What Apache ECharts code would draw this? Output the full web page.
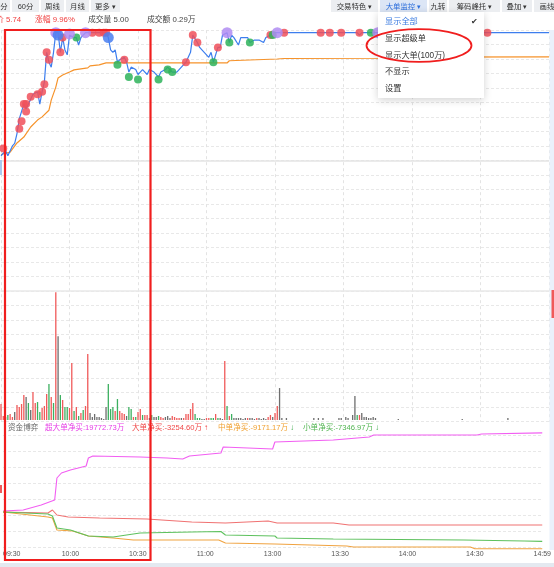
<!DOCTYPE html>
<html>
<head>
<meta charset="utf-8">
<style>
html,body{margin:0;padding:0;background:#fff;overflow:hidden;}
#chart{width:554px;height:567px;}
</style>
<script src="https://cdn.jsdelivr.net/npm/echarts/dist/echarts.min.js"></script>
</head>
<body>
<div id="chart"></div>
<script>
// x = minute index from 09:30 (120 = 11:30/13:00, 240 = 15:00)
const timeLabels = ['09:30', '10:00', '10:30', '11:00', '13:00', '13:30', '14:00', '14:30', '14:59']
const prevClose = 5.22

const price = [[0,5.24],[2,5.26],[3,5.24],[5,5.28],[6,5.29],[7,5.33],[8,5.39],[10,5.45],[11,5.43],[13,5.47],
  [14,5.49],[16,5.50],[17,5.45],[18,5.50],[19,5.54],[20,5.66],[21,5.62],[22,5.60],[23,5.66],[24,5.74],
  [25,5.74],[26,5.66],[27,5.72],[28,5.67],[29,5.65],[30,5.73],[32,5.72],[33,5.72],[34,5.69],[35,5.72],
  [37,5.74],[46,5.74],[47,5.72],[48,5.67],[49,5.66],[50,5.67],[51,5.62],[52,5.63],[54,5.64],[55,5.62],
  [56,5.58],[57,5.60],[59,5.59],[60,5.57],[61,5.58],[62,5.59],[64,5.57],[65,5.59],[67,5.58],[69,5.56],
  [70,5.58],[72,5.59],[73,5.60],[75,5.58],[77,5.58],[79,5.60],[81,5.62],[83,5.66],[84,5.73],[86,5.70],
  [87,5.68],[89,5.66],[91,5.64],[92,5.66],[93,5.62],[95,5.68],[96,5.68],[97,5.73],[99,5.74],[100,5.70],
  [101,5.73],[102,5.72],[104,5.69],[105,5.72],[108,5.72],[109,5.70],[111,5.71],[113,5.71],[115,5.70],[116,5.72],
  [118,5.73],[119,5.74],[121,5.74],[156,5.74],[157,5.73],[158,5.74],[240,5.74]]

const avgPrice = [[0,5.245],[4,5.255],[7,5.292],[10,5.316],[13,5.357],[16,5.385],[18,5.398],[21,5.425],
  [22,5.466],[24,5.519],[25,5.556],[27,5.568],[30,5.580],[32,5.589],[38,5.597],[39,5.605],[43,5.609],
  [46,5.617],[99,5.617],[100,5.626],[121,5.633],[124,5.635],[167,5.636],[168,5.641],[240,5.642]]

// large-order markers
const bigBuy = [[1,5.27],[8,5.35],[9,5.38],[10,5.45],[11,5.45],[11,5.42],[13,5.48],[16,5.49],[18,5.50],[19,5.53],
  [20,5.66],[21,5.63],[26,5.66],[27,5.72],[40,5.74],[43,5.74],[45,5.74],[46,5.74],[54,5.63],[81,5.62],
  [84,5.73],[86,5.70],[95,5.68],[118,5.73],[124,5.74],[140,5.74],[144,5.74],[149,5.74],[157,5.74],[213,5.74]]
const bigSell = [[33,5.72],[51,5.61],[56,5.56],[60,5.55],[69,5.55],[73,5.59],[75,5.58],[93,5.62],[100,5.70],
  [109,5.70],[119,5.73],[162,5.74]]
const superBuy = [[24,5.74],[30,5.735],[37,5.74],[99,5.74],[121,5.74],[165,5.74]]
const superSell = [[25,5.73],[47,5.72]]

// per-minute volume and direction (1 up, -1 down, 0 flat)
const volume = [
  16,4,3,5,6,3,8,15,13,16, 25,23,17,10,28,17,18,8,12,14, 26,36,23,17,128,84,25,20,13,13,
  12,57,9,13,4,7,10,14,66,7, 3,6,3,3,2,1,13,36,11,13, 9,21,9,7,6,4,13,11,3,3,
  8,11,5,5,5,2,5,3,3,4, 3,2,3,4,2,4,3,2,2,2, 2,6,6,11,17,6,2,2,1,1,
  2,2,2,2,6,2,2,1,59,14, 4,6,2,2,2,2,1,2,2,2, 2,1,2,2,1,2,1,3,5,3,
  7,14,32,2,0,2,0,0,0,0, 0,0,0,0,0,0,0,2,0,2, 0,2,0,0,0,0,0,0,2,2,
  0,3,2,0,5,24,5,5,7,3, 3,2,2,3,2,0,0,0,0,0, 0,0,0,0,1,0,0,0,0,0,
  0,0,0,0,0,0,0,0,0,0, 0,0,0,0,0,0,0,0,0,0, 0,0,1,0,0,0,0,0,0,0,
  0,0,0,0,0,0,0,0,0,0, 0,0,2,0,0,0,0,0,0,0, 0]
const volDir = [
  1,1,0,-1,1,1,0,1,1,1, 1,0,-1,0,1,1,-1,-1,1,1, 1,-1,1,-1,1,0,-1,1,-1,-1,
  1,1,-1,1,-1,1,-1,1,1,0, 0,0,0,0,0,0,0,-1,-1,-1, 1,-1,1,1,1,0,-1,-1,1,-1,
  1,1,-1,1,1,0,-1,0,0,-1, 1,1,0,0,0,1,1,1,1,0, 1,1,1,1,1,-1,-1,-1,0,0,
  1,1,-1,-1,1,-1,0,0,1,-1, 1,-1,0,0,0,0,0,0,1,0, 0,0,1,0,0,0,0,1,1,0,
  1,1,0,0,0,0,0,0,0,0, 0,0,0,0,0,0,0,0,0,0, 0,0,0,0,0,0,0,0,0,0,
  0,0,0,0,0,0,-1,1,0,0, 0,0,0,0,0,0,0,0,0,0, 0,0,0,0,0,0,0,0,0,0,
  0,0,0,0,0,0,0,0,0,0, 0,0,0,0,0,0,0,0,0,0, 0,0,0,0,0,0,0,0,0,0,
  0,0,0,0,0,0,0,0,0,0, 0,0,0,0,0,0,0,0,0,0, 0]

// cumulative net buy (万)
const flowNames = ['超大单净买', '大单净买', '中单净买', '小单净买']
const flowTotals = [19772.73, -3254.60, -9171.17, -7346.97]
const flowSuper = [[0,250],[9,500],[17,1750],[23,3000],[24,8500],[26,9750],[30,10500],[37,11500],[38,13500],
  [40,14000],[61,13750],[73,13500],[80,13250],[83,14000],[97,14750],[98,16250],[120,15750],[121,17500],
  [147,18000],[163,18750],[165,19250],[211,19250],[213,19500],[240,19772.73]]
const flowBig = [[0,0],[20,-250],[22,500],[24,-750],[29,-1250],[43,-1500],[64,-1750],[84,-2500],[99,-2750],
  [118,-2250],[122,-2750],[147,-2750],[154,-3254.60],[240,-3254.60]]
const flowMid = [[0,0],[20,-1250],[22,-1500],[24,-4500],[31,-4750],[38,-6000],[49,-6500],[58,-7000],[96,-7000],
  [99,-7750],[121,-8000],[153,-8500],[156,-8750],[208,-8750],[210,-9171.17],[240,-9171.17]]
const flowSmall = [[0,0],[20,-500],[22,-1000],[24,-4000],[30,-4500],[38,-6000],[49,-6250],[61,-5250],[84,-5000],
  [97,-4875],[99,-5750],[121,-6000],[122,-6500],[147,-6750],[205,-7000],[232,-7250],[240,-7346.97]]

const FONT = "'Liberation Sans','Noto Sans CJK SC',sans-serif"
const RED = '#f03c3c'
const GREEN = '#3cb060'
const flowLineColors = ['#f25ef2', '#f07272', '#f0a340', '#5ec15e']
const flowTextColors = ['#e63ce6', '#f04848', '#f0a030', '#50b450']

const chart = echarts.init(document.getElementById('chart'))

function hiddenAxis(extra) {
  return Object.assign({
    type: 'value',
    axisLine: { show: false },
    axisTick: { show: false },
    axisLabel: { show: false },
    splitLine: { show: false }
  }, extra)
}

function txt(x, y, s, color, size, extra) {
  return Object.assign({
    type: 'text', x: x, y: y, z: 60,
    style: { text: s, fill: color, font: size + 'px ' + FONT, verticalAlign: 'middle' }
  }, extra || {})
}

function tile(x, w, label, bg, color) {
  return [
    { type: 'rect', z: 50, shape: { x: x, y: 0, width: w, height: 12 }, style: { fill: bg } },
    txt(x + w / 2, 6.5, label, color, 7.4, { style: { text: label, fill: color, font: '7.4px ' + FONT, align: 'center', verticalAlign: 'middle' } })
  ]
}

const last = price[price.length - 1][1]
const pct = ((last - prevClose) / prevClose * 100).toFixed(2)

let graphic = []
// toolbar
graphic = graphic.concat(
  tile(-2, 12, '分', '#eceef1', '#333'),
  tile(12, 27, '60分', '#eceef1', '#333'),
  tile(41, 23, '周线', '#eceef1', '#333'),
  tile(66, 23, '月线', '#eceef1', '#333'),
  tile(91, 29, '更多 ▾', '#eceef1', '#333'),
  tile(331, 47, '交易特色 ▾', '#eceef1', '#333'),
  tile(380, 47, '大单监控 ▾', '#dce6f6', '#2d6fdc'),
  tile(429, 18, '九转', '#eceef1', '#333'),
  tile(449, 51, '筹码峰托 ▾', '#eceef1', '#333'),
  tile(502, 30, '叠加 ▾', '#eceef1', '#333'),
  tile(534, 26, '画线', '#eceef1', '#333')
)
// quote line
graphic.push(
  txt(-4, 20, '价 ' + last.toFixed(2), RED, 7.8),
  txt(35, 20, '涨幅 ' + pct + '%', RED, 7.8),
  txt(88, 20, '成交量 5.00', '#444', 7.8),
  txt(147, 20, '成交额 0.29万', '#444', 7.8)
)
// fund flow legend
graphic.push(txt(8, 427.5, '资金博弈', '#666', 7.6))
const legendX = [45, 132, 218, 303]
flowNames.forEach(function (n, i) {
  const arrow = i === 0 ? '' : (i === 1 ? '{u|↑}' : '{d|↓}')
  graphic.push({
    type: 'text', x: legendX[i], y: 427.5, z: 60,
    style: {
      text: '{v|' + n + ':' + flowTotals[i].toFixed(2) + '万}' + arrow,
      verticalAlign: 'middle',
      rich: {
        v: { fill: flowTextColors[i], font: '7.6px ' + FONT },
        u: { fill: RED, font: 'bold 8px ' + FONT, padding: [0, 0, 0, 2] },
        d: { fill: '#3aa84a', font: 'bold 8px ' + FONT, padding: [0, 0, 0, 2] }
      }
    }
  })
})
// right edge strip and axis tags
graphic.push(
  { type: 'rect', z: 55, shape: { x: 549.5, y: 30, width: 6, height: 520 }, style: { fill: '#eaf1fb' } },
  { type: 'rect', z: 56, shape: { x: 551.5, y: 290, width: 3, height: 28 }, style: { fill: '#f05a5a' } },
  { type: 'rect', z: 56, shape: { x: 0, y: 160, width: 2, height: 15 }, style: { fill: '#a9c8ee' } },
  { type: 'rect', z: 56, shape: { x: 0, y: 485, width: 2, height: 8 }, style: { fill: '#f05a5a' } },
  { type: 'rect', z: 50, shape: { x: 0, y: 563, width: 554, height: 4 }, style: { fill: '#e4e9f0' } }
)
// dropdown menu
const menuItems = ['显示全部', '显示超级单', '显示大单(100万)', '不显示', '设置']
graphic.push({
  type: 'rect', z: 80, shape: { x: 378, y: 12, width: 106, height: 86 },
  style: { fill: '#fff', shadowBlur: 8, shadowColor: 'rgba(0,0,0,0.18)', shadowOffsetY: 2 }
})
menuItems.forEach(function (m, i) {
  graphic.push(txt(385, 21.7 + i * 16.8, m, i === 0 ? '#3a7be0' : '#333', 8.2, { z: 81 }))
})
graphic.push(txt(471, 21.5, '✔', '#333', 8, { z: 81 }))
// red annotations
graphic.push(
  { type: 'ellipse', z: 100, shape: { cx: 419, cy: 45.5, rx: 52.5, ry: 16.3 }, style: { fill: 'none', stroke: '#f01e1e', lineWidth: 1.8 } },
  { type: 'rect', z: 100, shape: { x: 5, y: 30, width: 145.5, height: 530 }, style: { fill: 'none', stroke: '#f01e1e', lineWidth: 2.2 } }
)

function dots(data, color, size) {
  return {
    type: 'scatter', xAxisIndex: 1, yAxisIndex: 1, z: 5,
    symbolSize: size, data: data,
    itemStyle: { color: color, opacity: 0.85 }
  }
}

function flowLine(data, color) {
  return {
    type: 'line', xAxisIndex: 3, yAxisIndex: 3, data: data, clip: false,
    showSymbol: false, lineStyle: { color: color, width: 1.1 }, z: 4
  }
}

const dirColor = { '1': '#f05a5a', '-1': GREEN, '0': '#6e6e6e' }

chart.setOption({
  animation: false,
  backgroundColor: '#fff',
  grid: [
    { left: 1, right: 5, top: 30.2, height: 391.5 },
    { left: 1, right: 5, top: 30.2, height: 261 },
    { left: 1, right: 5, top: 291.2, height: 128.8 },
    { left: 1, right: 5, top: 435, height: 112 }
  ],
  xAxis: [
    hiddenAxis({ gridIndex: 0, min: 0, max: 240, interval: 30,
      splitLine: { show: true, lineStyle: { color: '#e3e3e3', type: [3, 3] } } }),
    hiddenAxis({ gridIndex: 1, min: 0, max: 240,
      axisLine: { show: true, lineStyle: { color: '#e9e9e9', width: 1.5 } } }),
    hiddenAxis({ gridIndex: 2, min: 0, max: 240 }),
    hiddenAxis({ gridIndex: 3, min: 0, max: 240, interval: 30,
      axisLabel: {
        show: true, color: '#555', fontSize: 7, fontFamily: FONT, margin: 4,
        alignMinLabel: 'left',
        formatter: function (v) { return timeLabels[v / 30] }
      } })
  ],
  yAxis: [
    hiddenAxis({ gridIndex: 0, min: 0, max: 27, interval: 1,
      splitLine: { show: true, lineStyle: { color: '#e8e8e8', type: [3, 2] } } }),
    hiddenAxis({ gridIndex: 1, min: prevClose - 0.53, max: prevClose + 0.53 }),
    hiddenAxis({ gridIndex: 2, min: 0, max: 129 }),
    hiddenAxis({ gridIndex: 3, min: -8750, max: 19250 }),
    hiddenAxis({ gridIndex: 3, min: 0, max: 7, interval: 1,
      splitLine: { show: true, lineStyle: { color: '#e8e8e8', type: [3, 2] } } })
  ],
  graphic: { elements: graphic },
  series: [
    {
      type: 'line', xAxisIndex: 1, yAxisIndex: 1, data: avgPrice, showSymbol: false, z: 3,
      lineStyle: { color: '#f6932b', width: 1.2 }
    },
    {
      type: 'line', xAxisIndex: 1, yAxisIndex: 1, data: price, showSymbol: false, z: 4,
      lineStyle: { color: '#3d7eee', width: 1.2 },
      markLine: {
        silent: true, symbol: 'none', label: { show: false },
        lineStyle: { color: '#e4e4e4', type: 'solid', width: 1.5 },
        data: [{ yAxis: prevClose }]
      }
    },
    dots(bigBuy, '#f0505a', 8),
    dots(bigSell, '#2eb35a', 8),
    dots(superBuy, '#b08cf2', 11),
    dots(superSell, '#4a7ff0', 11),
    {
      type: 'bar', xAxisIndex: 2, yAxisIndex: 2, barWidth: 1.3,
      data: volume.map(function (v, i) {
        return { value: [i, v], itemStyle: { color: dirColor[String(volDir[i])] } }
      })
    },
    flowLine(flowSuper, flowLineColors[0]),
    flowLine(flowBig, flowLineColors[1]),
    flowLine(flowMid, flowLineColors[2]),
    flowLine(flowSmall, flowLineColors[3])
  ]
})
</script>
</body>
</html>
